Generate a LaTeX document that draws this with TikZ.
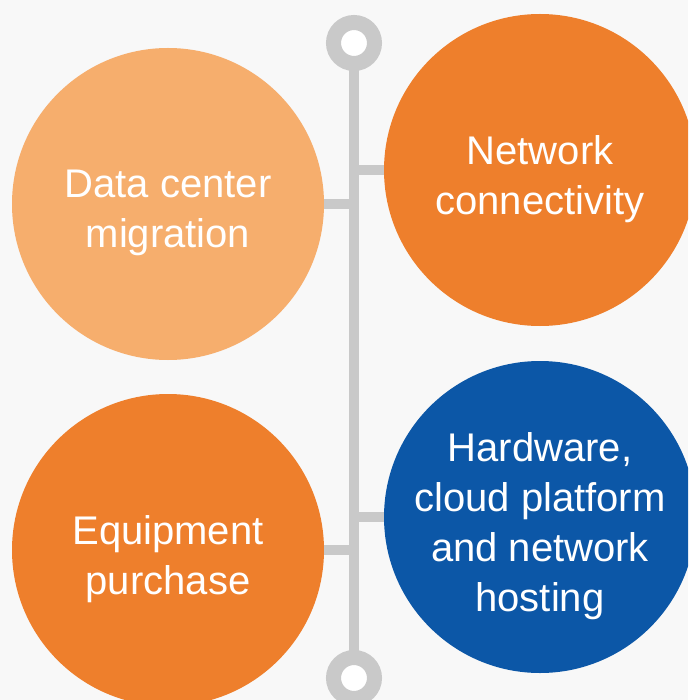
\documentclass[tikz,border=0pt]{standalone}
\usepackage{fontspec}
\setmainfont{Liberation Sans}
\usepackage{tikz}
\definecolor{softorange}{HTML}{F6AE6D}
\definecolor{deeporange}{HTML}{EE7F2C}
\definecolor{hostblue}{HTML}{0C57A7}
\definecolor{spinegrey}{HTML}{C9C9C9}
\definecolor{paper}{HTML}{F8F8F8}

\begin{document}
\begin{tikzpicture}[x=1pt, y=-1pt,
    bubble/.style={circle, minimum size=312pt, inner sep=0pt},
    topic/.style={text=white, align=center, yshift=-9pt,
        font=\fontsize{40}{50}\selectfont},
    link/.style={spinegrey, line width=10pt},
    ringend/.style={draw=spinegrey, line width=15pt, fill=white}]
    \useasboundingbox (0, 0) rectangle (688, 700);
    \clip (0, 0) rectangle (688, 700);
    \fill[paper] (0, 0) rectangle (688, 700);

    % Spine with a ring at each end
    \coordinate (ringtop) at (354, 43);
    \coordinate (ringbot) at (354, 678);
    \draw[link] (ringtop) -- (ringbot);
    \draw[ringend] (ringtop) circle (20.5);
    \draw[ringend] (ringbot) circle (20.5);

    % Four topics
    \node[bubble, fill=softorange, label={[topic]center:{Data center\\migration}}] (migration) at (168, 204) {};
    \node[bubble, fill=deeporange, label={[topic]center:{Network\\connectivity}}] (network) at (540, 170) {};
    \node[bubble, fill=hostblue, label={[topic]center:{Hardware,\\cloud platform\\and network\\hosting}}] (hosting) at (540, 517) {};
    \node[bubble, fill=deeporange, label={[topic]center:{Equipment\\purchase}}] (purchase) at (168, 550) {};

    % Branches to the spine
    \draw[link] (migration.east) -- (migration.east -| ringtop);
    \draw[link] (network.west) -- (network.west -| ringtop);
    \draw[link] (hosting.west) -- (hosting.west -| ringtop);
    \draw[link] (purchase.east) -- (purchase.east -| ringtop);
\end{tikzpicture}
\end{document}
